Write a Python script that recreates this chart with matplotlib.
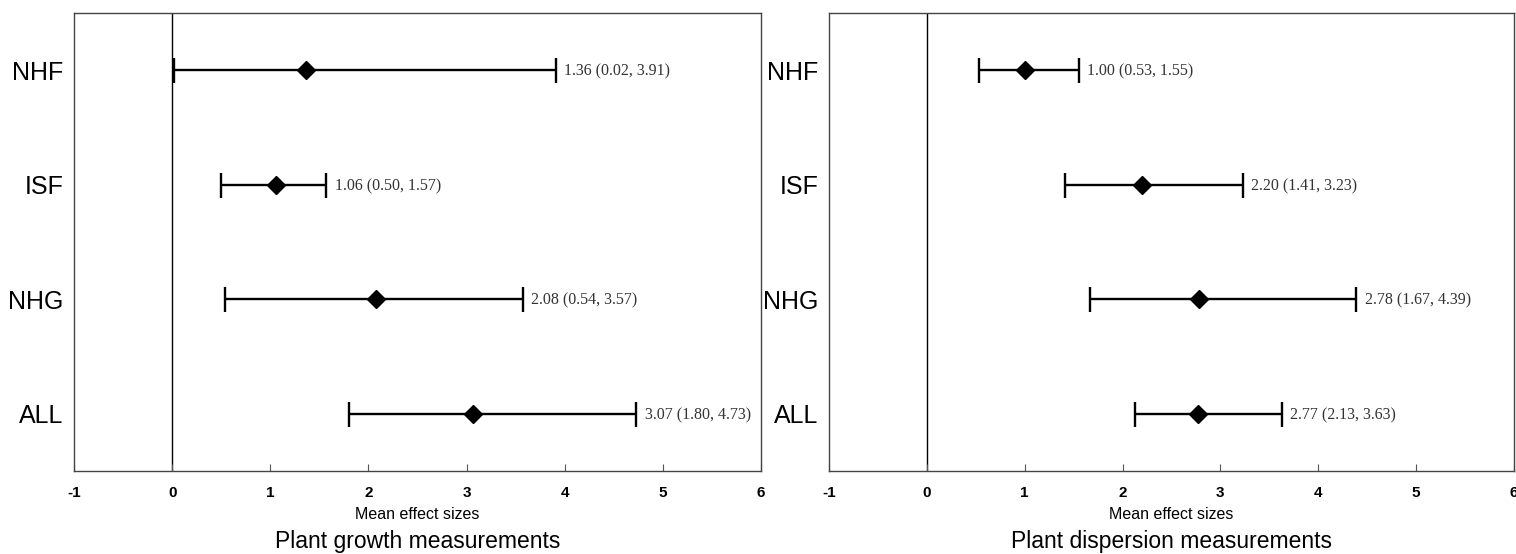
import matplotlib
matplotlib.use("Agg")
import matplotlib.pyplot as plt
import numpy as np

categories = ["NHF", "ISF", "NHG", "ALL"]

growth_mean = [1.36, 1.06, 2.08, 3.07]
growth_low = [0.02, 0.50, 0.54, 1.80]
growth_high = [3.91, 1.57, 3.57, 4.73]

disp_mean = [1.00, 2.20, 2.78, 2.77]
disp_low = [0.53, 1.41, 1.67, 2.13]
disp_high = [1.55, 3.23, 4.39, 3.63]

xticks = [-1, 0, 1, 2, 3, 4, 5, 6]
titles = ["Plant growth measurements", "Plant dispersion measurements"]
xlabel = "Mean effect sizes"

fig = plt.figure(figsize=(15.16, 5.54), dpi=100)
axes = [fig.add_axes([0.0488, 0.150, 0.4532, 0.8265]),
        fig.add_axes([0.5468, 0.150, 0.4519, 0.8265])]

sans = ["Liberation Sans", "DejaVu Sans"]
serif = ["Liberation Serif", "DejaVu Serif"]

panels = [(growth_mean, growth_low, growth_high), (disp_mean, disp_low, disp_high)]
ypos = np.arange(len(categories), 0, -1)

for ax, (m, lo, hi), title in zip(axes, panels, titles):
    m = np.array(m); lo = np.array(lo); hi = np.array(hi)
    ax.axvline(0, color="black", lw=1.0, zorder=1)
    ax.errorbar(m, ypos, xerr=[m - lo, hi - m], fmt="none", ecolor="black",
                elinewidth=1.7, capsize=9, capthick=1.7, zorder=2)
    ax.plot(m, ypos, marker="D", ms=9.5, color="black", ls="none", zorder=3)
    for yi, mi, li, hi_ in zip(ypos, m, lo, hi):
        ax.annotate(f"{mi:.2f} ({li:.2f}, {hi_:.2f})", xy=(hi_, yi),
                    xytext=(6, -1), textcoords="offset points",
                    va="center", ha="left", fontsize=11.5, family=serif,
                    color="#333333")
    ax.set_xlim(-1, 6)
    ax.set_ylim(0.5, 4.5)
    ax.set_xticks(xticks)
    ax.set_xticklabels([str(t) for t in xticks], family=sans,
                       fontweight="bold", fontsize=11)
    ax.set_yticks(ypos)
    ax.set_yticklabels(categories, family=sans, fontsize=18)
    ax.tick_params(axis="x", direction="in", length=5, pad=11, color="#555555")
    ax.tick_params(axis="y", length=0, pad=7.5)
    for s in ax.spines.values():
        s.set_color("#444444")
        s.set_linewidth(1.0)
    ax.text(0.5, -0.095, xlabel, transform=ax.transAxes, ha="center", va="center",
            family=sans, fontsize=11.5)
    ax.text(0.5, -0.155, title, transform=ax.transAxes, ha="center", va="center",
            family=sans, fontsize=16.5)

fig.savefig("out.png", dpi=100)
